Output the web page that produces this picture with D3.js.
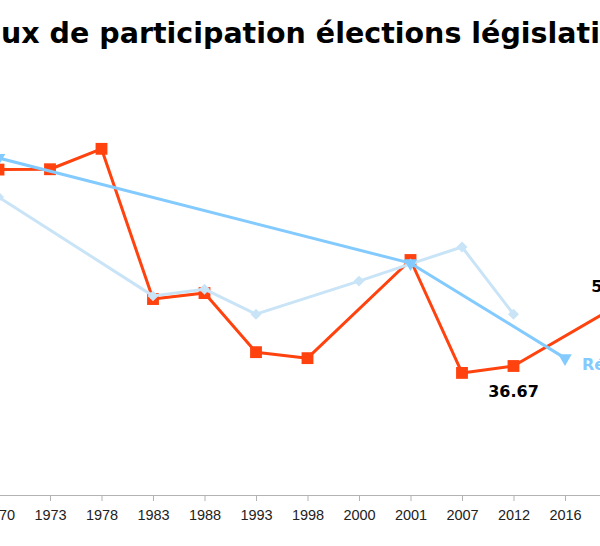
<!DOCTYPE html>
<html>
<head>
<meta charset="utf-8">
<script src="https://cdn.jsdelivr.net/npm/d3@7"></script>
<style>
  body { margin: 0; background: #fff; }
  svg { display: block; }
</style>
</head>
<body>
<div id="main"></div>
<script>
// categories on the x axis
const years = ['1970', '1973', '1978', '1983', '1988', '1993', '1998', '2000', '2001', '2007', '2012', '2016', '2017'];

// participation rates (%), null = no election that year
const legislatives = [92.5, 92.6, 98.4, 55.7, 57.4, 40.6, 38.9, null, 66.8, 34.7, 36.67, null, 53.71];
const presidentielles = [84.7, null, null, 56.6, 58.5, 51.4, null, 60.8, 65.7, 70.5, 51.4, null, null];
const referendums = [95.8, null, null, null, null, null, null, null, 65.9, null, null, 38.9, null];

// points that carry a value label
const labelledYears = ['2012', '2017'];

const titleText = 'Taux de participation élections législatives';

const width = 600, height = 546;

let svg = d3.select('#main')
    .append('svg')
    .attr('width', width)
    .attr('height', height);

// the chart is wider than the window, so the first and last categories fall on the edges
const x = d3.scalePoint().domain(years).range([-1.5, 616.5]);
const y = d3.scaleLinear().domain([0, 100]).range([495, 143.2]);

// x axis
const axis = svg.append('g')
    .attr('transform', 'translate(0,495)')
    .call(d3.axisBottom(x).tickSize(6).tickPadding(9));
axis.select('.domain').attr('d', 'M-10,0.5H620').attr('stroke', '#b3b3b3');
axis.selectAll('.tick line').attr('stroke', '#b3b3b3');
axis.selectAll('.tick text')
    .attr('fill', '#222')
    .style('font-family', '"Liberation Sans", Arial, sans-serif')
    .style('font-size', '14.5px');

function toPoints(values) {
    return years.map((yr, i) => ({ year: yr, value: values[i] })).filter(d => d.value !== null);
}

const line = d3.line().x(d => x(d.year)).y(d => y(d.value));

// rotate: degrees applied to the marker symbol
const series = [
    { name: 'Législatives', values: legislatives, color: '#ff420e', symbol: d3.symbolSquare, size: 140, rotate: 0 },
    { name: 'Présidentielles', values: presidentielles, color: '#c9e4f7', symbol: d3.symbolSquare, size: 60, rotate: 45 },
    { name: 'Référendum', values: referendums, color: '#83caff', symbol: d3.symbolTriangle, size: 80, rotate: 180 }
];

series.forEach(s => {
    const pts = toPoints(s.values);
    svg.append('path')
        .datum(pts)
        .attr('d', line)
        .attr('fill', 'none')
        .attr('stroke', s.color)
        .attr('stroke-width', 3)
        .attr('stroke-linejoin', 'round');

    svg.selectAll(null)
        .data(pts)
        .enter()
        .append('path')
            .attr('d', d3.symbol().type(s.symbol).size(s.size))
            .attr('transform', d => `translate(${x(d.year)},${y(d.value)}) rotate(${s.rotate})`)
            .attr('fill', s.color);
});

// value labels on the red series
const fmt = d3.format('.2f');
toPoints(legislatives).filter(d => labelledYears.includes(d.year)).forEach(d => {
    const last = d.year === years[years.length - 1];
    svg.append('text')
        .attr('x', x(d.year))
        .attr('y', last ? y(d.value) - 14 : y(d.value) + 31)
        .attr('text-anchor', 'middle')
        .style('font-family', '"DejaVu Sans", sans-serif')
        .style('font-weight', 'bold')
        .style('font-size', '16px')
        .attr('fill', '#000')
        .text(fmt(d.value));
});

// series name next to the last referendum point
const refPts = toPoints(referendums);
const refLast = refPts[refPts.length - 1];
svg.append('text')
    .attr('x', x(refLast.year) + 17)
    .attr('y', y(refLast.value) + 12)
    .style('font-family', '"DejaVu Sans", sans-serif')
    .style('font-weight', 'bold')
    .style('font-size', '16px')
    .attr('fill', '#83caff')
    .text('Référendum');

// title, cut on both sides like the original
const title = svg.append('text')
    .attr('y', 43)
    .style('font-family', '"DejaVu Sans", sans-serif')
    .style('font-weight', 'bold')
    .style('font-size', '28.5px')
    .attr('fill', '#000')
    .text('Ta');
const lead = title.node().getComputedTextLength();
title.text(titleText).attr('x', -lead + 1);
</script>
</body>
</html>
